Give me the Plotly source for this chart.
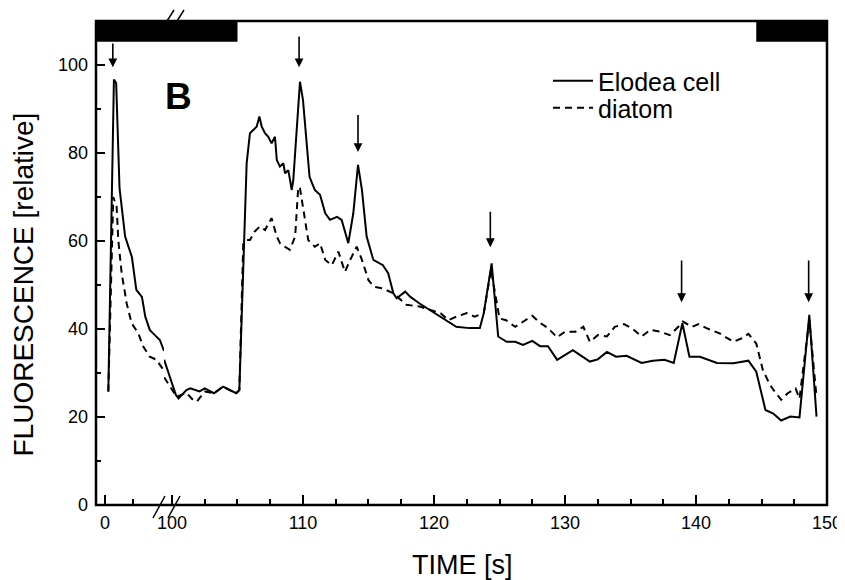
import plotly.graph_objects as go

# Elodea cell (solid) - left segment of broken axis (0..5 s)
elodea_t_left = [0.3, 0.8, 1.0, 1.3, 1.8, 2.4, 2.8, 3.3, 3.6, 4.0, 4.3, 4.9, 5.27]
elodea_v_left = [25.8, 96.7, 95.9, 72.0, 61.0, 56.4, 48.9, 47.3, 42.8, 39.8, 39.0, 37.5, 35.0]

# Elodea cell (solid) - right segment (100..150 s)
elodea_t_right = [99.4, 99.85, 100.3, 100.5, 101.1, 101.4, 102.1, 102.5, 103.2, 103.9, 104.4, 104.9,
                  105.14, 105.45, 105.7, 105.95, 106.2, 106.47, 106.67, 106.85, 107.1, 107.35, 107.6,
                  107.86, 108.0, 108.24, 108.5, 108.63, 108.88, 109.0, 109.14, 109.26, 109.77, 110.0,
                  110.28, 110.5, 110.9, 111.3, 111.7, 112.06, 112.6, 112.95, 113.46, 113.84, 114.2,
                  114.5, 114.86, 115.37, 116.1, 116.5, 116.9, 117.15, 117.8, 118.2, 118.9, 119.7,
                  120.46, 121.2, 121.7, 122.7, 123.5, 123.8, 124.4, 124.9, 125.55, 126.2, 126.8,
                  127.5, 128.1, 128.7, 129.4, 130.6, 131.9, 132.5, 133.2, 133.9, 134.7, 135.85,
                  136.7, 137.6, 138.3, 138.96, 139.5, 140.3, 141.6, 142.85, 144.0, 144.6, 145.3,
                  145.9, 146.5, 147.2, 147.9, 148.65, 149.2]
elodea_v_right = [33.0, 29.2, 25.0, 24.2, 26.1, 26.5, 25.8, 26.5, 25.4, 26.9, 26.1, 25.4,
                  26.1, 57.2, 77.7, 84.5, 85.2, 86.0, 88.3, 86.0, 84.5, 83.7, 82.2,
                  83.7, 78.4, 76.9, 77.7, 75.4, 76.1, 73.9, 71.6, 73.9, 96.2, 92.0,
                  81.4, 74.6, 71.6, 70.5, 66.3, 64.8, 65.5, 64.8, 59.5, 66.3, 77.3,
                  71.6, 61.0, 55.7, 54.5, 52.7, 48.1, 47.0, 48.5, 47.3, 45.8, 44.3,
                  42.8, 41.3, 40.5, 40.2, 40.2, 43.6, 54.9, 38.3, 37.1, 37.1, 36.4,
                  37.3, 36.1, 36.1, 33.0, 35.2, 32.6, 33.1, 34.8, 33.7, 33.9, 32.3,
                  32.8, 33.0, 32.3, 41.3, 33.7, 33.7, 32.3, 32.2, 32.8, 30.3, 21.6,
                  20.8, 19.2, 20.1, 19.9, 43.2, 20.1]

# diatom (dashed)
diatom_t_left = [0.3, 0.74, 1.04, 1.19, 1.49, 1.94, 2.38, 2.98, 3.42, 4.0, 4.6, 5.27]
diatom_v_left = [25.8, 70.0, 67.8, 60.2, 52.7, 45.8, 41.3, 39.0, 36.0, 33.7, 33.0, 30.5]

diatom_t_right = [99.4, 99.85, 100.36, 101.1, 101.6, 101.9, 102.5, 103.2, 103.9, 104.4, 104.9, 105.14,
                  105.44, 105.7, 105.95, 106.3, 106.7, 107.1, 107.35, 107.6, 108.0, 108.24, 108.6,
                  109.0, 109.4, 109.64, 109.77, 110.0, 110.4, 110.9, 111.3, 111.7, 112.2, 112.7,
                  113.2, 113.6, 114.1, 114.5, 115.0, 115.4, 116.1, 116.9, 117.9, 118.9, 119.7,
                  120.5, 121.1, 121.7, 122.5, 123.1, 123.8, 124.35, 125.0, 125.5, 126.2, 126.8,
                  127.5, 128.1, 128.7, 129.4, 130.0, 130.8, 131.4, 131.9, 132.5, 133.2, 133.8,
                  134.5, 135.1, 135.85, 136.5, 137.25, 138.0, 138.65, 139.0, 139.7, 140.2, 140.8,
                  141.8, 142.85, 143.5, 144.0, 144.6, 145.1, 145.65, 146.0, 146.5, 147.0, 147.6,
                  147.9, 148.65, 149.1, 149.2]
diatom_v_right = [29.0, 26.9, 24.6, 25.5, 23.9, 23.5, 25.8, 25.4, 26.9, 26.1, 25.4, 26.1,
                  59.5, 60.2, 60.2, 62.1, 63.3, 62.5, 64.0, 65.2, 61.0, 59.5, 58.7,
                  58.0, 61.0, 72.3, 72.0, 67.8, 60.2, 58.7, 59.5, 55.7, 54.5, 57.6,
                  53.0, 55.7, 58.7, 55.7, 51.1, 49.6, 49.2, 48.1, 45.5, 45.1, 44.3,
                  43.6, 42.0, 42.8, 43.6, 42.8, 43.6, 53.5, 42.4, 42.0, 40.5, 41.7,
                  43.0, 41.4, 40.2, 38.1, 39.4, 39.4, 40.5, 37.1, 38.6, 38.3, 40.5,
                  41.1, 40.2, 38.3, 39.8, 39.4, 38.6, 40.5, 41.7, 40.5, 41.1, 40.2,
                  39.0, 37.1, 37.9, 38.9, 36.7, 30.7, 27.3, 25.8, 23.9, 25.4, 26.5,
                  24.2, 42.0, 27.7, 24.6]

# stimulus arrows: time, tail value, tip value
arrow_t = [0.7, 109.7, 114.2, 124.3, 138.9, 148.6]
arrow_tail = [105.2, 106.8, 89.0, 67.0, 55.9, 55.9]
arrow_tip = [99.5, 99.5, 80.2, 58.6, 46.1, 46.1]

# dark periods (top bar)
dark_periods = [(-0.8, 105.0), (144.6, 150.0)]

FONT = "Liberation Sans, Arial, sans-serif"
solid = dict(color="black", width=2)
dashed = dict(color="black", width=2, dash="7px,5px")

# page body has an 8px margin, so size the figure to fill the rest of the window
W, H = 837, 572
ML, MT, MR, MB = 88, 13, 18, 75
PW, PH = W - ML - MR, H - MT - MB


def px(x):  # screen x -> paper
    return (x - 8 - ML) / PW


def py(y):  # screen y -> paper
    return (H - MB - (y - 8)) / PH


fig = go.Figure()
fig.add_trace(go.Scatter(x=elodea_t_left, y=elodea_v_left, mode="lines", line=solid,
                         xaxis="x", yaxis="y", showlegend=False))
fig.add_trace(go.Scatter(x=elodea_t_right, y=elodea_v_right, mode="lines", line=solid,
                         xaxis="x2", yaxis="y", name="Elodea cell", legend="legend"))
fig.add_trace(go.Scatter(x=diatom_t_left, y=diatom_v_left, mode="lines", line=dashed,
                         xaxis="x", yaxis="y", showlegend=False))
fig.add_trace(go.Scatter(x=diatom_t_right, y=diatom_v_right, mode="lines", line=dashed,
                         xaxis="x2", yaxis="y", name="diatom", legend="legend2"))

# arrows
for t, tail, tip in zip(arrow_t, arrow_tail, arrow_tip):
    xr = "x" if t < 50 else "x2"
    fig.add_annotation(x=t, y=tip, ax=t, ay=tail, xref=xr, yref="y", axref=xr, ayref="y",
                       text="", showarrow=True, arrowhead=2, arrowsize=1.1, arrowwidth=1.6,
                       arrowcolor="black")

# dark bars
for x0, x1 in dark_periods:
    if x0 < 50:
        fig.add_shape(type="rect", xref="x", yref="y", x0=x0, x1=5.3, y0=105.3, y1=110.6,
                      fillcolor="black", line_width=0)
        fig.add_shape(type="rect", xref="x2", yref="y", x0=99.35, x1=x1, y0=105.3, y1=110.6,
                      fillcolor="black", line_width=0)
    else:
        fig.add_shape(type="rect", xref="x2", yref="y", x0=x0, x1=x1, y0=105.3, y1=110.6,
                      fillcolor="black", line_width=0)

# frame
fig.add_shape(type="rect", xref="paper", yref="paper", x0=0, x1=1, y0=0, y1=1,
              line=dict(color="black", width=2.5), layer="above")

# axis break marks
for (xa, ya, xb, yb) in [(153, 518, 165, 496), (168, 518, 180, 496),
                         (167, 21, 174, 10), (177, 21, 184, 10)]:
    fig.add_shape(type="line", xref="paper", yref="paper", x0=px(xa), y0=py(ya), x1=px(xb), y1=py(yb),
                  line=dict(color="black", width=1.5), layer="above")

centered = dict(xref="paper", yref="paper", xanchor="center", yanchor="middle", showarrow=False)
fig.add_annotation(x=px(178.5), y=py(96.5), text="<b>B</b>",
                   font=dict(family=FONT, size=37, color="black"), **centered)
fig.add_annotation(x=px(462.5), y=py(565), text="TIME [s]",
                   font=dict(family=FONT, size=27, color="black"), **centered)
fig.add_annotation(x=px(22.5), y=py(285), text="FLUORESCENCE [relative]", textangle=-90,
                   font=dict(family=FONT, size=28, color="black"), **centered)

axis_common = dict(showline=False, showgrid=False, zeroline=False, ticks="inside",
                   tickcolor="black", tickwidth=2, automargin=False,
                   tickfont=dict(family=FONT, size=18, color="black"))
minor_x = dict(ticks="inside", ticklen=6, tickcolor="black", tickwidth=1.5)

legend_common = dict(xanchor="left", yanchor="middle", bgcolor="rgba(0,0,0,0)", itemwidth=40,
                     font=dict(family=FONT, size=25, color="black"))

fig.update_layout(
    width=W, height=H,
    margin=dict(l=ML, r=MR, t=MT, b=MB),
    paper_bgcolor="white", plot_bgcolor="white",
    font=dict(family=FONT, color="black"),
    xaxis=dict(domain=[0, px(164)], range=[-0.8, 5.27], tickvals=[0], anchor="y", ticklen=10,
               ticklabelstandoff=5, minor=dict(tickvals=[2.5], **minor_x), **axis_common),
    xaxis2=dict(domain=[px(164), 1], range=[99.39, 150], tick0=100, dtick=10, anchor="y", ticklen=10,
                ticklabelstandoff=5, minor=dict(dtick=2.5, **minor_x), **axis_common),
    yaxis=dict(range=[0, 110], tick0=0, dtick=20, anchor="x", ticklen=9, ticklabelstandoff=7,
               minor=dict(dtick=10, ticks="inside", ticklen=5, tickcolor="black", tickwidth=1.5),
               **axis_common),
    showlegend=True,
    legend=dict(x=px(548), y=py(81), **legend_common),
    legend2=dict(x=px(548), y=py(108), **legend_common),
)

fig.write_html("out.html")
